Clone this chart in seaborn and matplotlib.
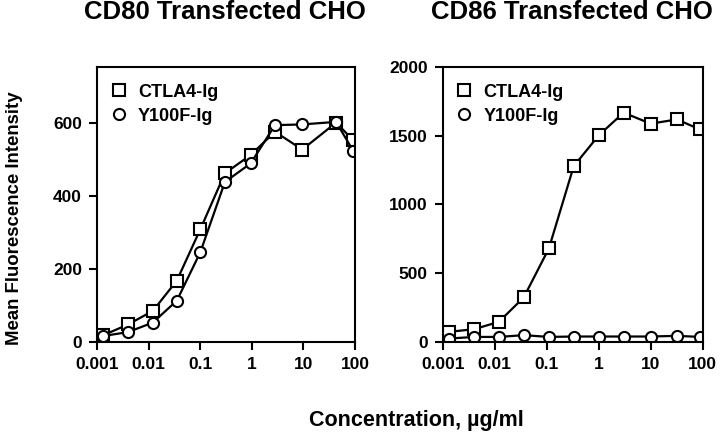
import matplotlib
matplotlib.use("Agg")
import matplotlib.pyplot as plt
import seaborn as sns
from matplotlib.ticker import FixedLocator, NullLocator

# concentrations (ug/ml)
conc_cd80 = [0.0013, 0.004, 0.012, 0.035, 0.1, 0.3, 0.95, 2.8, 9.5, 43, 92]
conc_cd86 = [0.0013, 0.004, 0.012, 0.036, 0.11, 0.33, 1, 3, 10, 32, 88]

# CD80 transfected CHO
cd80_ctla4 = [18, 48, 85, 168, 309, 463, 513, 577, 528, 602, 554]
cd80_y100f = [16, 27, 53, 113, 246, 439, 490, 595, 597, 604, 525]

# CD86 transfected CHO
cd86_ctla4 = [73, 92, 146, 323, 680, 1278, 1502, 1667, 1587, 1618, 1545]
cd86_y100f = [24, 36, 36, 49, 36, 39, 39, 39, 39, 44, 36]

x_ticks = [0.001, 0.01, 0.1, 1, 10, 100]
x_labels = ["0.001", "0.01", "0.1", "1", "10", "100"]

sns.set_theme(style="ticks")
plt.rcParams["font.family"] = ["Liberation Sans", "DejaVu Sans"]
plt.rcParams["font.weight"] = "bold"
for k in ["text.color", "axes.labelcolor", "xtick.color", "ytick.color"]:
    plt.rcParams[k] = "black"

fig = plt.figure(figsize=(7.2, 4.4), dpi=100)
ax1 = fig.add_axes([0.135, 0.223, 0.358, 0.625])
ax2 = fig.add_axes([0.615, 0.223, 0.361, 0.625])

mk = dict(color="black", linewidth=1.6, markersize=8, markeredgewidth=1.5,
          markerfacecolor="white", markeredgecolor="black")

def panel(ax, conc, a, b, ylim, yticks):
    sns.lineplot(x=conc, y=a, ax=ax, marker="s", label="CTLA4-Ig", **mk)
    sns.lineplot(x=conc, y=b, ax=ax, marker="o", label="Y100F-Ig", **mk)
    ax.set_xscale("log")
    ax.set_xlim(0.001, 100)
    ax.set_ylim(*ylim)
    ax.xaxis.set_major_locator(FixedLocator(x_ticks))
    ax.xaxis.set_minor_locator(NullLocator())
    ax.set_xticklabels(x_labels)
    ax.set_yticks(yticks)
    for s in ax.spines.values():
        s.set_linewidth(1.5)
        s.set_color("black")
    ax.tick_params(direction="out", length=6, width=1.5, labelsize=12.5, pad=5)
    for lab in ax.get_xticklabels() + ax.get_yticklabels():
        lab.set_fontweight("bold")
    leg = ax.legend(loc="upper left", bbox_to_anchor=(0.0, 0.985), frameon=False,
                    fontsize=13, handlelength=1.0, handletextpad=0.55,
                    borderaxespad=0.3, labelspacing=0.38)
    for h in leg.get_lines():
        h.set_linestyle("none")
    for t in leg.get_texts():
        t.set_fontweight("bold")
    ax.set_xlabel("")
    ax.set_ylabel("")

panel(ax1, conc_cd80, cd80_ctla4, cd80_y100f, (0, 755), [0, 200, 400, 600])
panel(ax2, conc_cd86, cd86_ctla4, cd86_y100f, (0, 2000), [0, 500, 1000, 1500, 2000])

fig.text(0.3125, 0.972, "CD80 Transfected CHO", ha="center", va="center",
         fontsize=18.5, fontweight="bold")
fig.text(0.795, 0.972, "CD86 Transfected CHO", ha="center", va="center",
         fontsize=18.5, fontweight="bold")
fig.text(0.02, 0.505, "Mean Fluorescence Intensity", rotation=90, ha="center",
         va="center", fontsize=13.4, fontweight="bold")
fig.text(0.578, 0.044, "Concentration, \u00b5g/ml", ha="center", va="center",
         fontsize=15.5, fontweight="bold")

fig.savefig("out.png", dpi=100)
